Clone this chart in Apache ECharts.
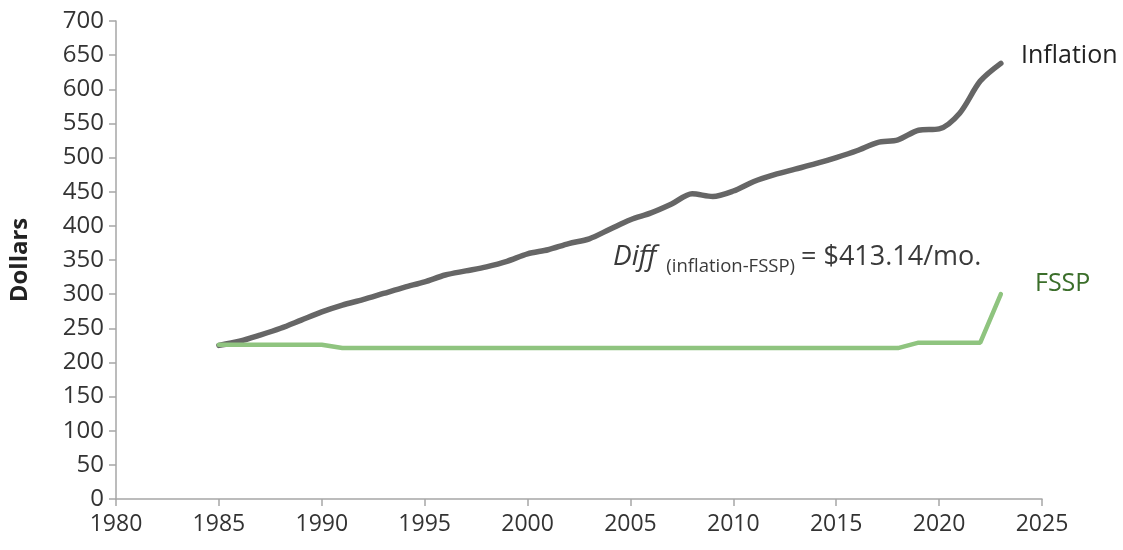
<!DOCTYPE html>
<html><head><meta charset="utf-8">
<script src="https://cdn.jsdelivr.net/npm/echarts@6/dist/echarts.min.js"></script>
<style>html,body{margin:0;padding:0;background:#fff}#c{width:1123px;height:550px}</style>
</head><body><div id="c"></div>
<script>
const years = [1985,1986,1987,1988,1989,1990,1991,1992,1993,1994,1995,1996,1997,1998,1999,2000,2001,2002,2003,2004,2005,2006,2007,2008,2009,2010,2011,2012,2013,2014,2015,2016,2017,2018,2019,2020,2021,2022,2023];
const inflation = [225,231,240,250,262,274,284,292,301,310,318,328,334,340,348,359,365,374,381,395,409,419,432,447,443,451,465,475,483,491,500,510,522,526,540,542,565,612,638];
const fssp = [226,226,226,226,226,226,221,221,221,221,221,221,221,221,221,221,221,221,221,221,221,221,221,221,221,221,221,221,221,221,221,221,221,221,229,229,229,229,300];
const yTicks = {min:0,max:700,interval:50};
const xTicks = {min:1980,max:2025,interval:5};
const FONT = '"Open Sans", sans-serif';

const chart = echarts.init(document.getElementById('c'));
chart.setOption({
  animation:false,
  grid:{left:116,right:81,top:21,bottom:51},
  xAxis:{type:'value',min:xTicks.min,max:xTicks.max,interval:xTicks.interval,
    axisLine:{lineStyle:{color:'#a6a6a6',width:1.5}},
    axisTick:{show:true,length:7,lineStyle:{color:'#a6a6a6',width:1.5}},
    splitLine:{show:false},
    axisLabel:{color:'#333',fontSize:23,fontFamily:FONT,margin:14,formatter:v=>String(v)}},
  yAxis:{type:'value',min:yTicks.min,max:yTicks.max,interval:yTicks.interval,
    name:'Dollars',nameLocation:'middle',nameGap:84,
    nameTextStyle:{fontSize:24,fontWeight:'bold',color:'#222',fontFamily:FONT},
    axisLine:{show:true,lineStyle:{color:'#a6a6a6',width:1.5}},
    axisTick:{show:true,length:7,lineStyle:{color:'#a6a6a6',width:1.5}},
    splitLine:{show:false},
    axisLabel:{color:'#333',fontSize:24,fontFamily:FONT,margin:12}},
  series:[
    {name:'Inflation',type:'line',smooth:0.3,symbol:'none',
      data:years.map((y,i)=>[y,inflation[i]]),
      lineStyle:{color:'#666666',width:5.5,cap:'round'}},
    {name:'FSSP',type:'line',symbol:'none',
      data:years.map((y,i)=>[y,fssp[i]]),
      lineStyle:{color:'#8fc47f',width:4.5,cap:'round'}}
  ],
  graphic:[
    {type:'text',left:1021,top:43,style:{text:'Inflation',fontSize:25,fontFamily:FONT,fill:'#222'}},
    {type:'text',left:1035,top:271,style:{text:'FSSP',fontSize:25,fontFamily:FONT,fill:'#3b6e2a'}},
    {type:'text',left:613,top:243,style:{
      text:'{i|Diff}{s|(inflation-FSSP)}{n|= $413.14/mo.}',
      rich:{
        i:{fontSize:28,fontStyle:'italic',fontFamily:FONT,fill:'#3a3a3a',verticalAlign:'bottom',padding:[0,10,0,0]},
        s:{fontSize:18.5,fontFamily:FONT,fill:'#3a3a3a',verticalAlign:'bottom',padding:[0,6,-5,0]},
        n:{fontSize:27,fontFamily:FONT,fill:'#3a3a3a',verticalAlign:'bottom'}
      }}}
  ]
});
</script></body></html>
